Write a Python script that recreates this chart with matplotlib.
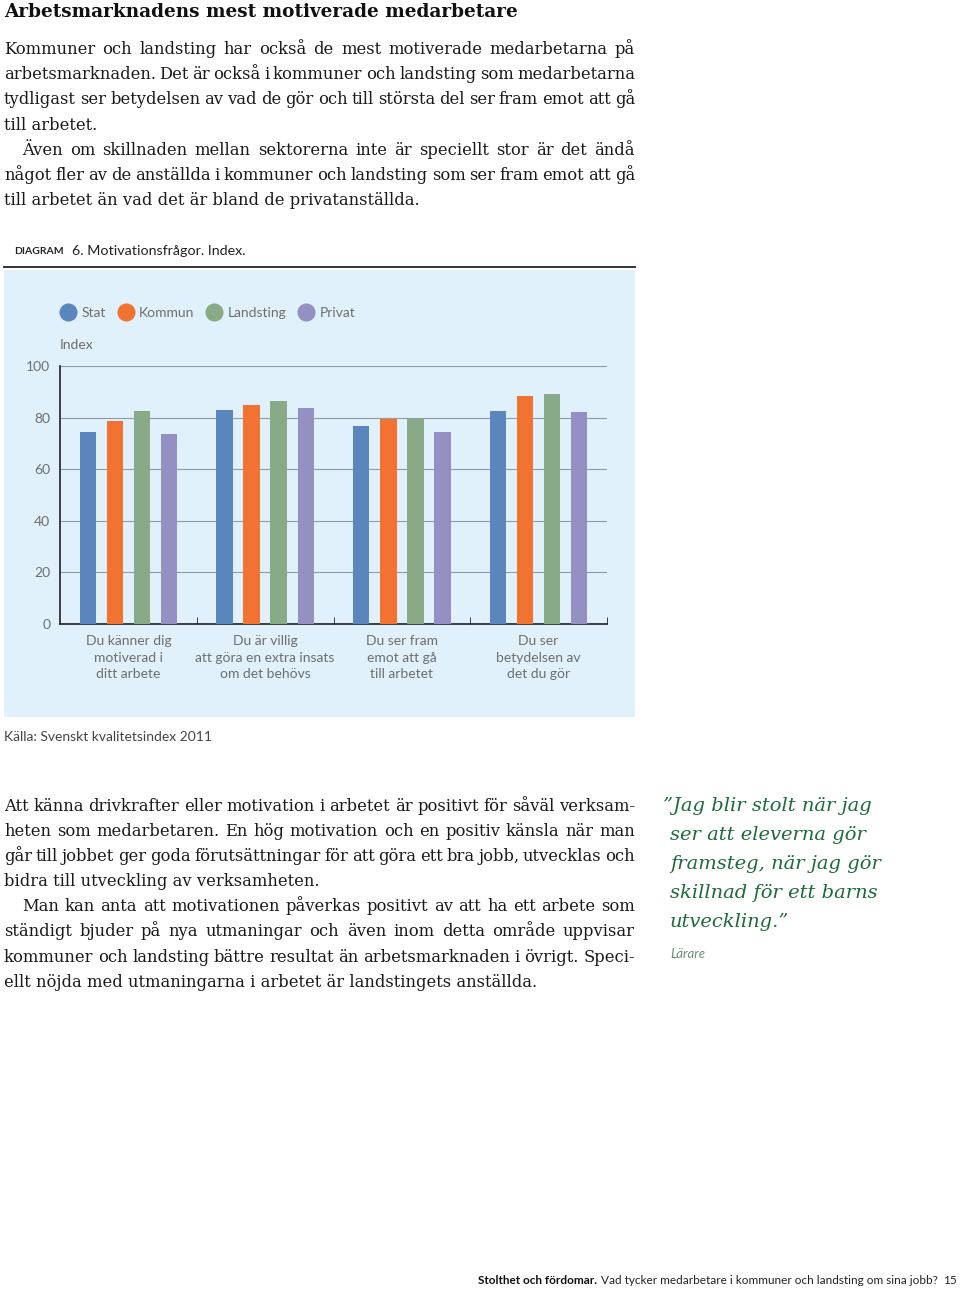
import matplotlib
matplotlib.use("Agg")
import matplotlib.pyplot as plt
from matplotlib.patches import Rectangle
from matplotlib.lines import Line2D
import numpy as np

W, H = 960, 1291

# chart data (index values)
questions = ["Du känner dig\nmotiverad i\nditt arbete",
             "Du är villig\natt göra en extra insats\nom det behövs",
             "Du ser fram\nemot att gå\ntill arbetet",
             "Du ser\nbetydelsen av\ndet du gör"]
sectors = ["Stat", "Kommun", "Landsting", "Privat"]
stat = [74.5, 83.0, 76.7, 82.7]
kommun = [78.5, 84.8, 79.3, 88.3]
landsting = [82.5, 86.3, 79.4, 89.3]
privat = [73.7, 83.6, 74.5, 82.2]
yticks = [0, 20, 40, 60, 80, 100]

colors = ["#5b86bd", "#f27231", "#88aa87", "#9590c4"]

para1 = [
    ("Kommuner och landsting har också de mest motiverade medarbetarna på", True, 0),
    ("arbetsmarknaden. Det är också i kommuner och landsting som medarbetarna", True, 0),
    ("tydligast ser betydelsen av vad de gör och till största del ser fram emot att gå", True, 0),
    ("till arbetet.", False, 0),
    ("Även om skillnaden mellan sektorerna inte är speciellt stor är det ändå", True, 18),
    ("något fler av de anställda i kommuner och landsting som ser fram emot att gå", True, 0),
    ("till arbetet än vad det är bland de privatanställda.", False, 0),
]
para2 = [
    ("Att känna drivkrafter eller motivation i arbetet är positivt för såväl verksam-", True, 0),
    ("heten som medarbetaren. En hög motivation och en positiv känsla när man", True, 0),
    ("går till jobbet ger goda förutsättningar för att göra ett bra jobb, utvecklas och", True, 0),
    ("bidra till utveckling av verksamheten.", False, 0),
    ("Man kan anta att motivationen påverkas positivt av att ha ett arbete som", True, 18),
    ("ständigt bjuder på nya utmaningar och även inom detta område uppvisar", True, 0),
    ("kommuner och landsting bättre resultat än arbetsmarknaden i övrigt. Speci-", True, 0),
    ("ellt nöjda med utmaningarna i arbetet är landstingets anställda.", False, 0),
]
quote = ["\u201dJag blir stolt när jag", "ser att eleverna gör", "framsteg, när jag gör",
         "skillnad för ett barns", "utveckling.\u201d"]

fig = plt.figure(figsize=(W / 100, H / 100), dpi=100)
renderer = fig.canvas.get_renderer()


def fx(x):
    return x / W


def fy(y):
    return 1 - y / H


def ptext(x, y, s, **kw):
    return fig.text(fx(x), fy(y), s, **kw)


def paragraph(lines, y0, step, x0=4, x1=635, **kw):
    for i, (line, justify, indent) in enumerate(lines):
        y = y0 + i * step
        if not justify:
            ptext(x0 + indent, y, line, va="baseline", ha="left", **kw)
            continue
        words = line.split()
        texts = [ptext(0, y, w, va="baseline", ha="left", **kw) for w in words]
        widths = [t.get_window_extent(renderer).width for t in texts]
        gap = (x1 - x0 - indent - sum(widths)) / (len(words) - 1)
        x = x0 + indent
        for t, w in zip(texts, widths):
            t.set_x(fx(x))
            x += w + gap


serif = dict(family="DejaVu Serif", fontsize=11.8, color="#1a1a1a")
ptext(4, 17, "Arbetsmarknadens mest motiverade medarbetare", family="DejaVu Serif",
      fontsize=13.3, fontweight="bold", va="baseline", color="#111111")
paragraph(para1, 54, 25.2, **serif)
paragraph(para2, 811, 25.1, **serif)

# chart panel
fig.patches.append(Rectangle((fx(4), fy(717)), fx(631), 447 / H, transform=fig.transFigure,
                             facecolor="#e0f1fb", edgecolor="none", zorder=-1))
fig.lines.append(Line2D([fx(4), fx(635)], [fy(267), fy(267)], transform=fig.transFigure,
                        color="#222222", lw=1.3))
ptext(14, 251, "DIAGRAM", family="Lato", fontsize=7.5, fontweight="bold", va="center",
      color="#222222")
ptext(72, 251, "6. Motivationsfrågor. Index.", family="Lato", fontsize=10.3, va="center",
      color="#222222")

grey = "#6e6e6e"
ax = fig.add_axes([fx(60), fy(624), (607 - 60) / W, (624 - 366) / H])
ax.set_zorder(1)
ax.set_facecolor("none")
x = np.arange(len(questions))
bw = 0.12
step = 0.198
for k, (vals, c) in enumerate(zip([stat, kommun, landsting, privat], colors)):
    ax.bar(x + (k - 1.5) * step, vals, bw, color=c, zorder=3)

ax.set_xlim(-0.5, 3.5)
ax.set_ylim(0, 100)
ax.set_yticks(yticks)
ax.set_yticklabels([str(v) for v in yticks], family="Lato", fontsize=10, color=grey)
ax.yaxis.grid(True, color="#8d9ba5", lw=0.8, zorder=1)
ax.set_axisbelow(True)
ax.set_xticks(x)
ax.set_xticklabels(questions, family="Lato", fontsize=10, color=grey, linespacing=1.45)
ax.set_xticks([0.5, 1.5, 2.5, 3.5], minor=True)
ax.tick_params(axis="x", which="major", length=0, pad=8)
ax.tick_params(axis="x", which="minor", length=5, direction="in", color="#222222")
ax.tick_params(axis="y", length=0, pad=7)
for s in ["top", "right"]:
    ax.spines[s].set_visible(False)
for s in ["left", "bottom"]:
    ax.spines[s].set_color("#222222")
    ax.spines[s].set_linewidth(1.2)

handles = [Line2D([], [], marker="o", ls="none", markersize=12, color=c) for c in colors]
fig.legend(handles, sectors, loc="center left", bbox_to_anchor=(fx(61), fy(313)),
           ncol=4, frameon=False, handlelength=1.0, handletextpad=0.45, columnspacing=0.95,
           borderpad=0, borderaxespad=0,
           prop=dict(family="Lato", size=10), labelcolor=grey)
ptext(60, 345, "Index", family="Lato", fontsize=10, va="center", color=grey)
ptext(4, 737, "Källa: Svenskt kvalitetsindex 2011", family="Lato", fontsize=10, va="center",
      color="#444444")

# quote
for i, line in enumerate(quote):
    ptext(663 if i == 0 else 670, 806 + i * 29, line, family="DejaVu Serif", style="italic",
          fontsize=14, va="center", color="#1d6b3b")
ptext(670, 954, "Lärare", family="Lato", style="italic", fontsize=9.5, va="center",
      color="#6a8f78")

# footer
bold = ptext(478, 1281, "Stolthet och fördomar.", family="Lato", fontweight="bold",
             fontsize=8.5, va="center", color="#111111")
bx = bold.get_window_extent(renderer).x1
ptext(bx + 4, 1281, "Vad tycker medarbetare i kommuner och landsting om sina jobb?",
      family="Lato", fontsize=8.5, va="center", ha="left", color="#222222")
ptext(957, 1281, "15", family="Lato", fontsize=8.5, va="center", ha="right", color="#222222")

fig.savefig("out.png", dpi=100)
